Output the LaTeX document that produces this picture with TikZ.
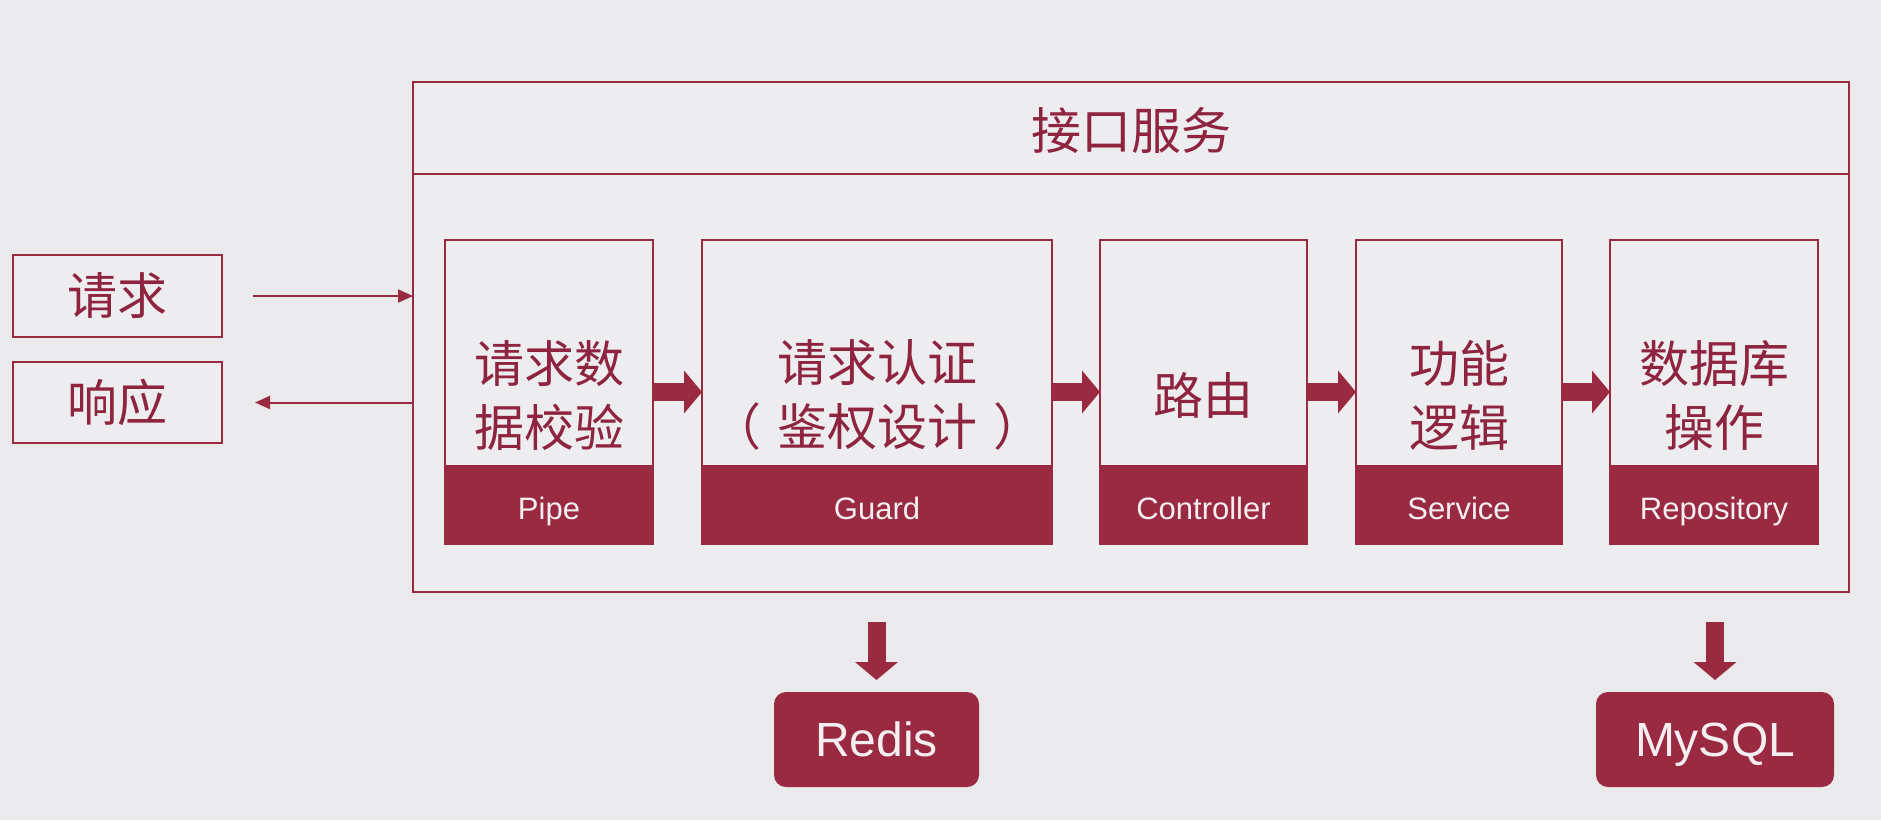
\documentclass[tikz,border=0pt]{standalone}
\usepackage{fontspec}
\setmainfont{Liberation Sans}
\newfontfamily\cjk{Noto Sans CJK SC}
\usetikzlibrary{arrows.meta}

\definecolor{wine}{HTML}{9A2A42}
\definecolor{winetext}{HTML}{8E2440}
\definecolor{pagebg}{HTML}{EAE9EB}
\definecolor{panel}{HTML}{EDEDEF}
\definecolor{paletext}{HTML}{F4EEF0}

\tikzset{
  frame/.style={draw=wine, line width=2pt, fill=panel, inner sep=0pt, outer sep=0pt},
  stagebox/.style={frame, minimum height=304pt},
  band/.style={fill=wine},
  cjklabel/.style={text=winetext, align=center, inner sep=0pt,
    font=\cjk\fontsize{50}{64}\selectfont},
  bandlabel/.style={text=paletext, inner sep=0pt, text height=22pt, text depth=0pt,
    font=\fontsize{31}{36}\selectfont},
  storebox/.style={fill=wine, rounded corners=12pt, inner sep=0pt, outer sep=0pt,
    minimum height=95pt, text height=34pt, text depth=0pt, text=paletext,
    font=\fontsize{48}{54}\selectfont},
  thinarrow/.style={draw=wine, line width=2pt, -{Triangle[length=15pt,width=13pt]}},
  bigarrow/.style={draw=wine, line width=18pt, -{Triangle[length=18pt,width=42pt]}},
}

\begin{document}
\begin{tikzpicture}[x=1pt, y=-1pt]
  % page background and extent
  \fill[pagebg] (0,0) rectangle (1881,820);
  \useasboundingbox (0,0) rectangle (1881,820);

  % service frame with its title strip
  \node[frame, minimum width=1436pt, minimum height=510pt] (svc) at (1131,337) {};
  \draw[wine, line width=2pt] ([yshift=-92pt]svc.north west) -- ([yshift=-92pt]svc.north east);
  \node[cjklabel] (title) at (1131,131) {接口服务};

  % client side
  \node[frame, minimum width=209pt, minimum height=82pt] (req) at (117.5,296) {};
  \node[cjklabel] at (req.center) {请求};
  \node[frame, minimum width=209pt, minimum height=81pt] (resp) at (117.5,402.5) {};
  \node[cjklabel] at (resp.center) {响应};
  \draw[thinarrow] ([xshift=31pt]req.east) -- (req.east -| svc.west);
  \draw[thinarrow] (resp.east -| svc.west) -- ([xshift=33pt]resp.east);

  % processing stages
  \node[stagebox, minimum width=208pt] (pipe)  at (549,392)    {};
  \node[stagebox, minimum width=350pt] (guard) at (877,392)    {};
  \node[stagebox, minimum width=207pt] (ctrl)  at (1203.5,392) {};
  \node[stagebox, minimum width=206pt] (serv)  at (1459,392)   {};
  \node[stagebox, minimum width=208pt] (repo)  at (1714,392)   {};

  \foreach \s/\top/\tag in {pipe/{请求数\\据校验}/Pipe,
                            guard/{请求认证\\（\kern16pt 鉴权设计\kern16pt ）}/Guard,
                            ctrl/{路由}/Controller,
                            serv/{功能\\逻辑}/Service,
                            repo/{数据库\\操作}/Repository}{
    \fill[band] (\s.south west) rectangle ([yshift=79pt]\s.south east);
    \draw[wine, line width=2pt] (\s.south west) rectangle (\s.north east);
    \node[cjklabel] at ([yshift=-3pt]\s.center) {\top};
    \node[bandlabel] at ([yshift=35.5pt]\s.south) {\tag};
  }

  \draw[bigarrow] (pipe.east)  -- (guard.west);
  \draw[bigarrow] (guard.east) -- (ctrl.west);
  \draw[bigarrow] (ctrl.east)  -- (serv.west);
  \draw[bigarrow] (serv.east)  -- (repo.west);

  % storage back ends
  \node[storebox, minimum width=205pt] (redis) at (876.5,739.5) {Redis};
  \node[storebox, minimum width=238pt] (mysql) at (1715,739.5)  {MySQL};
  \draw[bigarrow, shorten <=30pt, shorten >=12pt] (redis.north |- svc.south) -- (redis.north);
  \draw[bigarrow, shorten <=30pt, shorten >=12pt] (mysql.north |- svc.south) -- (mysql.north);
\end{tikzpicture}
\end{document}
